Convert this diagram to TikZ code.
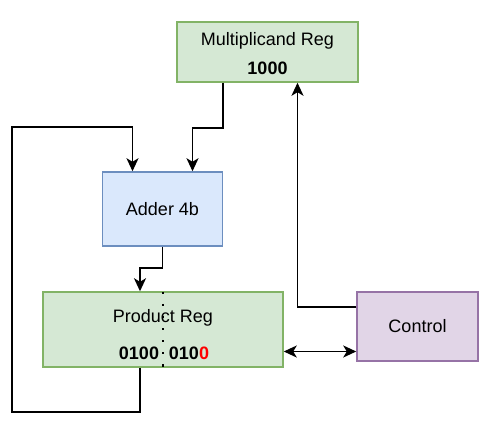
\documentclass[tikz,border=0pt]{standalone}
\usepackage{fontspec}
\setmainfont{Liberation Sans}
\usetikzlibrary{arrows.meta}
\definecolor{gfill}{HTML}{D5E8D4}\definecolor{gline}{HTML}{82B366}
\definecolor{bfill}{HTML}{DAE8FC}\definecolor{bline}{HTML}{6C8EBF}
\definecolor{pfill}{HTML}{E1D5E7}\definecolor{pline}{HTML}{9673A6}
\definecolor{redtxt}{HTML}{FF0000}
\begin{document}
\begin{tikzpicture}[x=1pt,y=-1pt,
  box/.style={draw,line width=1.5pt,inner sep=0pt},
  greenbox/.style={box,fill=gfill,draw=gline},
  bluebox/.style={box,fill=bfill,draw=bline},
  purplebox/.style={box,fill=pfill,draw=pline},
  txt/.style={inner sep=0pt,font=\fontsize{18}{20}\selectfont},
  btxt/.style={txt,font=\fontsize{18}{20}\selectfont\bfseries},
  tip/.tip={Stealth[length=13pt,width=12pt,inset=3.5pt]},
  arr/.style={line width=1.7pt,-tip},
  arrtwo/.style={line width=1.7pt,tip-tip}]
\useasboundingbox (0,0) rectangle (494,427);
\node[greenbox,minimum width=181pt,minimum height=60pt] (mult) at (267.5,52) {};
\node[bluebox,minimum width=120pt,minimum height=74pt] (adder) at (162.5,209) {};
\node[greenbox,minimum width=240pt,minimum height=75pt] (prod) at (163,329.5) {};
\node[purplebox,minimum width=121pt,minimum height=69pt] (ctrl) at (417.5,326.5) {};
\node[txt] (multt) at (267.5,41) {Multiplicand Reg};
\node[btxt] (multv) at (267.5,68) {1000};
\node[txt] (addt) at (162.5,209) {Adder 4b};
\node[txt] (prodt) at (163,318) {Product Reg};
\node[btxt] (prodl) at (139,353) {0100};
\node[btxt] (prodr) at (189,353) {010\textcolor{redtxt}{0}};
\node[txt] (ctrlt) at (417.5,326) {Control};
\draw[line width=2.2pt,dash pattern=on 2.2pt off 9.9pt] ([yshift=-0.5pt]prod.north) -- (prod.south);
\draw[arr] ([xshift=-44.5pt]mult.south) -- ++(0,45) -| ([xshift=30pt]adder.north);
\coordinate (fbA) at (12,412);
\coordinate (fbB) at (12,127);
\draw[arr] ([xshift=-23pt]prod.south) |- (fbA) -- (fbB) -| ([xshift=-30pt]adder.north);
\draw[arr] (adder.south) -- ++(0,21) -| ([xshift=-23pt]prod.north);
\draw[arr] ([yshift=19.5pt]ctrl.west) -| ([xshift=30pt]mult.south);
\draw[arrtwo] ([yshift=-22pt]prod.east) -- ([yshift=-25pt]ctrl.west);
\end{tikzpicture}
\end{document}
